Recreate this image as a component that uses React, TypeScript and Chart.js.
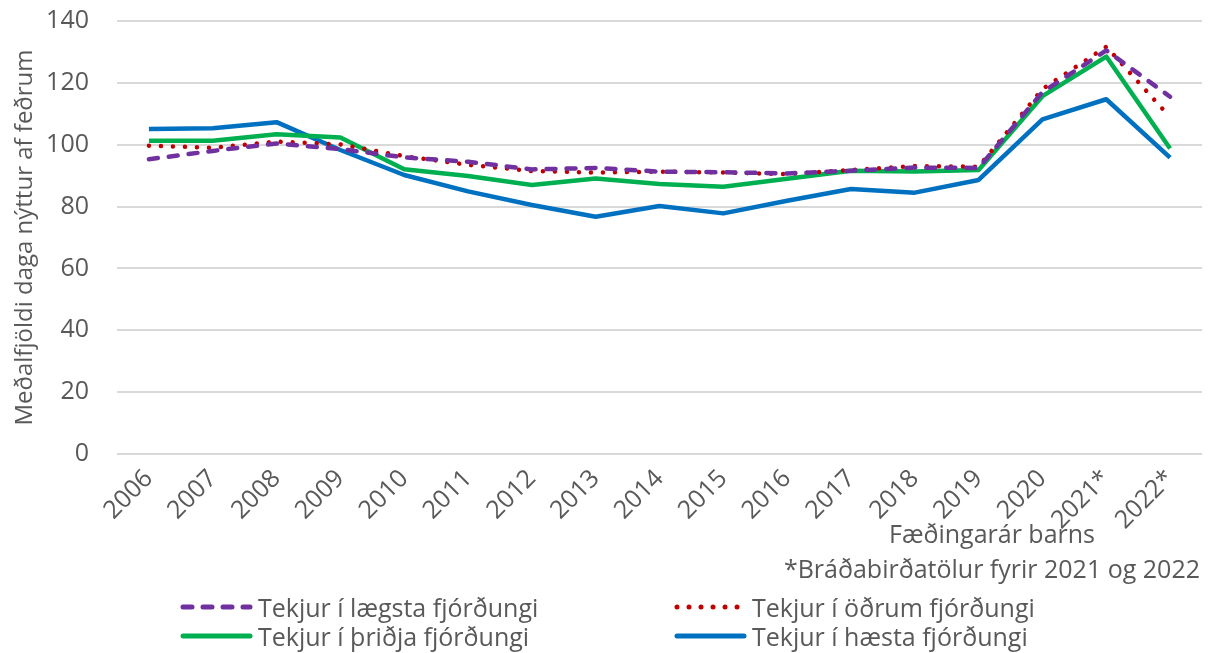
import React, { useEffect, useRef } from "react";
import { Chart, registerables } from "chart.js";

Chart.register(...registerables);

const categories = ["2006", "2007", "2008", "2009", "2010", "2011", "2012", "2013", "2014", "2015", "2016", "2017", "2018", "2019", "2020", "2021*", "2022*"];
const lowestQuartile = [95.3, 98.0, 100.4, 98.6, 95.9, 94.5, 92.0, 92.5, 91.3, 91.1, 90.7, 91.6, 92.6, 92.5, 117.0, 130.5, 115.5];
const secondQuartile = [99.7, 99.0, 101.0, 100.1, 96.3, 93.5, 91.5, 91.0, 91.3, 91.0, 90.5, 91.8, 93.1, 92.9, 118.0, 131.7, 108.9];
const thirdQuartile = [101.3, 101.3, 103.4, 102.3, 92.1, 89.9, 87.0, 89.1, 87.3, 86.4, 89.0, 91.6, 91.3, 91.8, 115.7, 128.5, 98.8];
const highestQuartile = [105.1, 105.3, 107.3, 98.3, 90.2, 84.9, 80.5, 76.7, 80.2, 77.8, 81.9, 85.7, 84.5, 88.6, 108.2, 114.7, 95.8];
const seriesNames = ["Tekjur í lægsta fjórðungi", "Tekjur í öðrum fjórðungi", "Tekjur í þriðja fjórðungi", "Tekjur í hæsta fjórðungi"];
const yTicks = [0, 20, 40, 60, 80, 100, 120, 140];
const yTitle = "Meðalfjöldi daga nýttur af feðrum";
const xTitle = "Fæðingarár barns";
const footnote = "*Bráðabirðatölur fyrir 2021 og 2022";

const FONT = "'Open Sans', 'Noto Sans', sans-serif";
const TEXT = "#595959";
const COLORS = ["#7030A0", "#C00000", "#00B050", "#0070C0"];
const DASHES: number[][] = [[9, 11], [0.01, 12], [], []];
const SHIFT = 22;

function LegendItem({ idx }: { idx: number }) {
  const c = COLORS[idx];
  const d = DASHES[idx];
  return (
    <div style={{ display: "flex", alignItems: "center", height: 29 }}>
      <svg width={80} height={12}>
        <line x1={5} y1={6} x2={72} y2={6} stroke={c} strokeWidth={5} strokeLinecap="round" strokeDasharray={d.length ? d.join(" ") : undefined} />
      </svg>
      <span>{seriesNames[idx]}</span>
    </div>
  );
}

export default function App() {
  const ref = useRef<HTMLCanvasElement | null>(null);
  useEffect(() => {
    if (!ref.current) return;
    const data = [lowestQuartile, secondQuartile, thirdQuartile, highestQuartile];
    const chart = new Chart(ref.current, {
      type: "line",
      data: {
        labels: categories,
        datasets: data.map((d, i) => ({
          label: seriesNames[i],
          data: d,
          borderColor: COLORS[i],
          backgroundColor: COLORS[i],
          borderWidth: 4.5,
          borderDash: DASHES[i],
          borderCapStyle: i < 2 ? "round" : "butt",
          borderJoinStyle: "round",
          pointRadius: 0,
          tension: 0,
          fill: false,
        })),
      },
      options: {
        responsive: false,
        animation: false,
        layout: { padding: { top: 0, right: 14, bottom: 119, left: 0 } },
        plugins: { legend: { display: false }, tooltip: { enabled: false } },
        scales: {
          x: {
            offset: true,
            grid: { display: false, offset: true },
            border: { display: false },
            ticks: {
              color: TEXT,
              font: { family: FONT, size: 25 },
              minRotation: 45,
              maxRotation: 45,
              padding: 2,
            },
            afterFit: (s: any) => { s.height = 80; },
          },
          y: {
            min: 0,
            max: 140,
            afterBuildTicks: (s: any) => { s.ticks = yTicks.map((v) => ({ value: v })); },
            grid: { color: "#d9d9d9", lineWidth: 2, drawTicks: false },
            border: { display: false },
            ticks: { color: TEXT, font: { family: FONT, size: 25 }, padding: 28 },
            title: { display: true, text: yTitle, color: TEXT, font: { family: FONT, size: 24 }, padding: { top: 11, bottom: 0 } },
            afterFit: (s: any) => { s.width = 117; },
          },
        },
      },
    });
    return () => chart.destroy();
  }, []);

  return (
    <div style={{ position: "absolute", left: 0, top: 0, width: 1216, height: 653, overflow: "hidden", background: "#fff", fontFamily: FONT, fontSize: 25, color: TEXT }}>
      <canvas ref={ref} width={1216} height={653 + SHIFT} style={{ position: "absolute", left: 0, top: -SHIFT }} />
      <div style={{ position: "absolute", left: 860, width: 264, textAlign: "center", top: 518, lineHeight: "30px" }}>{xTitle}</div>
      <div style={{ position: "absolute", right: 16, top: 553, lineHeight: "30px", whiteSpace: "nowrap" }}>{footnote}</div>
      <div style={{ position: "absolute", left: 178, top: 592 }}>
        <LegendItem idx={0} />
        <LegendItem idx={2} />
      </div>
      <div style={{ position: "absolute", left: 672, top: 592 }}>
        <LegendItem idx={1} />
        <LegendItem idx={3} />
      </div>
    </div>
  );
}
